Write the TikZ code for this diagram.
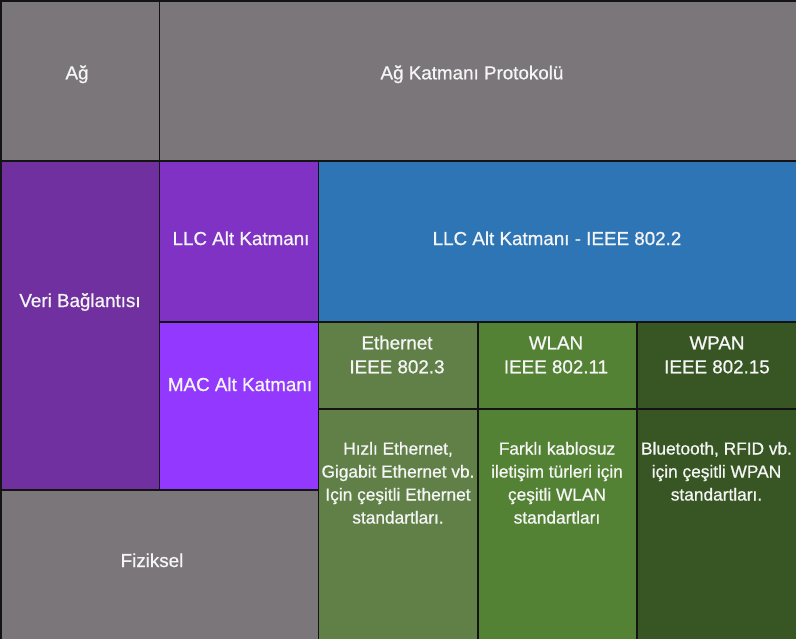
\documentclass[tikz,border=0pt]{standalone}
\usepackage{fontspec}
\setmainfont{Liberation Sans}
\newfontfamily\labfont{Liberation Sans}[FakeBold=0.8]
\definecolor{cgray}{RGB}{123,118,121}
\definecolor{cveri}{RGB}{112,48,160}
\definecolor{cllc}{RGB}{127,50,196}
\definecolor{cmac}{RGB}{146,56,255}
\definecolor{cblue}{RGB}{46,117,182}
\definecolor{ceth}{RGB}{96,128,72}
\definecolor{cwlan}{RGB}{84,130,53}
\definecolor{cwpan}{RGB}{55,86,35}
\definecolor{cedge}{RGB}{20,20,20}
\definecolor{ctxt}{RGB}{245,245,245}
\begin{document}
\begin{tikzpicture}[x=1pt,y=-1pt,
  cell/.style={draw=cedge, line width=1.5pt, inner sep=0pt, outer sep=0pt, anchor=north west, rectangle},
  lbl/.style={text=ctxt, font=\labfont\fontsize{18.8}{24}\selectfont, anchor=base, inner sep=0pt, align=center},
  bodytxt/.style={text=ctxt, font=\labfont\fontsize{17.3}{23}\selectfont, anchor=base, inner sep=0pt, align=center}]
\useasboundingbox (0,0) rectangle (796,638);
% cells
\node[cell, fill=cgray, minimum width=158.5pt, minimum height=160pt] (ag) at (1,1) {};
\node[cell, fill=cgray, minimum width=642pt, minimum height=160pt] (akp) at (159.5,1) {};
\node[cell, fill=cveri, minimum width=158.5pt, minimum height=329pt] (veri) at (1,161) {};
\node[cell, fill=cllc, minimum width=159pt, minimum height=161pt] (llc) at (159.5,161) {};
\node[cell, fill=cblue, minimum width=483pt, minimum height=161pt] (llcb) at (318.5,161) {};
\node[cell, fill=cmac, minimum width=159pt, minimum height=168pt] (mac) at (159.5,322) {};
\node[cell, fill=cgray, minimum width=317.5pt, minimum height=156pt] (fiz) at (1,490) {};
\node[cell, fill=ceth, minimum width=159.5pt, minimum height=87pt] (ethh) at (318.5,322) {};
\node[cell, fill=cwlan, minimum width=159pt, minimum height=87pt] (wlanh) at (478,322) {};
\node[cell, fill=cwpan, minimum width=165pt, minimum height=87pt] (wpanh) at (637,322) {};
\node[cell, fill=ceth, minimum width=159.5pt, minimum height=237pt] (ethb) at (318.5,409) {};
\node[cell, fill=cwlan, minimum width=159pt, minimum height=237pt] (wlanb) at (478,409) {};
\node[cell, fill=cwpan, minimum width=165pt, minimum height=237pt] (wpanb) at (637,409) {};
% labels
\node[lbl] (tag) at (77,79.3) {Ağ};
\node[lbl] (takp) at (472,79.3) {Ağ Katmanı Protokolü};
\node[lbl] (tveri) at (80,307) {Veri Bağlantısı};
\node[lbl] (tllc) at (241,245) {LLC Alt Katmanı};
\node[lbl] (tllcb) at (557,245) {LLC Alt Katmanı - IEEE 802.2};
\node[lbl] (tmac) at (240,391) {MAC Alt Katmanı};
\node[lbl] (tfiz) at (152,567) {Fiziksel};
\node[lbl] (tethh) at (397,373.3) {Ethernet\\IEEE 802.3};
\node[lbl] (twlanh) at (556,373.3) {WLAN\\IEEE 802.11};
\node[lbl] (twpanh) at (717,373.3) {WPAN\\IEEE 802.15};
\node[bodytxt] (tethb) at (398,523.5) {Hızlı Ethernet,\\Gigabit Ethernet vb.\\Için çeşitli Ethernet\\standartları.};
\node[bodytxt] (twlanb) at (557,523.5) {Farklı kablosuz\\iletişim türleri için\\çeşitli WLAN\\standartları};
\node[bodytxt] (twpanb) at (716.5,500.5) {Bluetooth, RFID vb.\\için çeşitli WPAN\\standartları.};
\end{tikzpicture}
\end{document}
